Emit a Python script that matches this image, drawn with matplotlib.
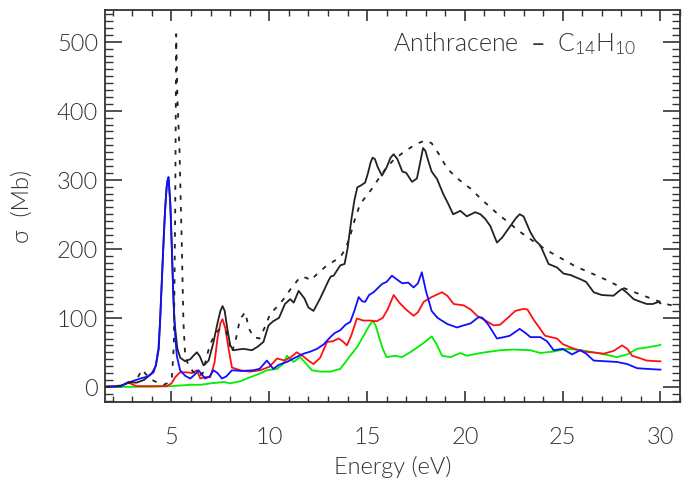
import matplotlib
matplotlib.use("Agg")
import matplotlib.pyplot as plt
from matplotlib.ticker import MultipleLocator

plt.rcParams['font.family'] = ['Lato', 'DejaVu Sans']
plt.rcParams['font.weight'] = 300
plt.rcParams['axes.labelweight'] = 300
plt.rcParams['mathtext.default'] = 'regular'

# total cross section, calculation (solid black)
tot_x = [1.6, 2.4, 2.8, 3.2, 3.6, 4.0, 4.2, 4.35, 4.5, 4.65, 4.75, 4.85, 4.95, 5.05, 5.15, 5.3,
         5.45, 5.7, 5.96, 6.15, 6.3, 6.45, 6.64, 6.9, 7.15, 7.35, 7.5, 7.61, 7.72, 7.85, 8.0,
         8.17, 8.4, 8.68, 8.9, 9.11, 9.4, 9.7, 9.96, 10.2, 10.5, 10.8, 11.07, 11.25, 11.5,
         11.8, 12.0, 12.26, 12.6, 13.03, 13.15, 13.29, 13.63, 13.85, 14.0, 14.2, 14.35, 14.5,
         14.7, 14.9, 15.05, 15.18, 15.28, 15.4, 15.55, 15.76, 16.0, 16.2, 16.36, 16.55, 16.8,
         17.0, 17.3, 17.55, 17.75, 17.86, 17.98, 18.1, 18.3, 18.58, 18.9, 19.1, 19.4, 19.77,
         20.1, 20.53, 20.8, 21.05, 21.3, 21.64, 21.9, 22.3, 22.6, 22.8, 23.0, 23.35, 23.6,
         23.86, 24.28, 24.71, 25.05, 25.4, 25.65, 25.9, 26.2, 26.59, 27.0, 27.6, 27.85, 28.04,
         28.3, 28.63, 29.0, 29.3, 29.6, 29.9, 30.0]
tot_y = [0, 1, 7, 6, 10, 20, 30, 55, 150, 245, 290, 302, 260, 170, 95, 55,
         42, 37, 40, 46, 50, 44, 31, 38, 65, 92, 110, 117, 110, 85, 60,
         53, 54, 55, 54, 53, 58, 65, 89, 95, 100, 120, 127, 122, 139,
         128, 115, 110, 128, 154, 160, 161, 176, 178, 200, 243, 270, 289,
         292, 296, 310, 325, 332, 330, 318, 306, 318, 332, 337, 330, 312,
         310, 297, 302, 330, 346, 342, 330, 312, 301, 279, 268, 250, 255,
         247, 253, 250, 243, 233, 209, 216, 232, 244, 250, 247, 224, 212,
         205, 178, 173, 164, 162, 159, 156, 152, 137, 133, 132, 138, 142,
         136, 127, 123, 120, 120, 123, 121]

# reference curve (dotted black)
exp_x = [1.6, 2.5, 3.0, 3.3, 3.5, 3.7, 4.0, 4.3, 4.6, 4.85, 5.02, 5.12, 5.19, 5.24, 5.3, 5.41,
         5.53, 5.61, 5.7, 5.87, 6.1, 6.4, 6.6, 6.81, 6.98, 7.2, 7.5, 7.8, 8.09, 8.3, 8.5, 8.77,
         8.95, 9.19, 9.5, 9.8, 10.05, 10.4, 10.73, 11.1, 11.58, 11.9, 12.1, 12.5, 12.95, 13.3,
         13.63, 13.9, 14.14, 14.4, 14.65, 15.0, 15.25, 15.6, 16.0, 16.4, 16.87, 17.3, 17.7,
         17.98, 18.3, 18.7, 19.1, 19.7, 20.3, 20.8, 21.3, 21.7, 22.2, 22.75, 23.35, 23.8, 24.37,
         25.0, 25.56, 26.1, 26.76, 27.3, 27.78, 28.4, 29.14, 29.8, 30.42, 31.0]
exp_y = [0, 2, 8, 15, 25, 18, 10, 6, 3, 6, 14, 60, 258, 511, 420, 342,
         200, 94, 45, 31, 22, 15, 20, 45, 62, 75, 85, 80, 50, 70, 98, 108,
         85, 72, 70, 88, 106, 116, 127, 142, 159, 158, 154, 165, 176, 182,
         188, 200, 219, 245, 265, 278, 287, 302, 318, 330, 340, 348, 354,
         357, 353, 336, 316, 300, 287, 273, 260, 250, 239, 226, 214, 205, 195,
         185, 176, 169, 161, 154, 147, 140, 132, 125, 119, 116]

# partial contributions
blue_x = [1.6, 2.38, 2.89, 3.4, 3.8, 4.08, 4.2, 4.33, 4.42, 4.5, 4.6, 4.7, 4.78, 4.85, 4.93,
          5.02, 5.1, 5.19, 5.27, 5.44, 5.7, 5.96, 6.2, 6.38, 6.55, 6.72, 6.95, 7.15, 7.35,
          7.58, 7.8, 8.09, 8.6, 9.19, 9.5, 9.88, 10.2, 10.5, 10.9, 11.3, 11.75, 12.1, 12.44,
          12.8, 13.12, 13.35, 13.63, 13.9, 14.14, 14.35, 14.57, 14.75, 14.9, 15.1, 15.33,
          15.55, 15.76, 16.0, 16.27, 16.6, 16.8, 17.1, 17.38, 17.6, 17.8, 18.0, 18.3, 18.6,
          19.1, 19.6, 19.94, 20.3, 20.7, 20.9, 21.2, 21.64, 22.0, 22.3, 22.8, 23.1, 23.35,
          23.86, 24.2, 24.54, 25.0, 25.48, 25.9, 26.2, 26.59, 27.2, 27.78, 28.3, 28.8, 29.3,
          29.9, 30.0]
blue_y = [0, 1, 7, 12, 15, 21, 32, 55, 95, 150, 215, 270, 298, 304, 270,
          200, 125, 74, 45, 24, 16, 12, 18, 24, 18, 12, 15, 24, 20,
          12, 15, 24, 23, 24, 26, 38, 26, 32, 36, 42, 48, 51, 55,
          62, 72, 78, 82, 90, 94, 110, 130, 124, 123, 133, 137,
          143, 149, 152, 161, 154, 150, 151, 144, 150, 166, 140, 110, 100,
          91, 86, 89, 92, 101, 100, 90, 70, 72, 74, 84, 78, 72,
          72, 66, 53, 55, 47, 53, 48, 38, 37, 36, 33, 27, 26,
          25, 25]

red_x = [1.6, 2.4, 2.8, 3.2, 4.0, 4.76, 5.0, 5.19, 5.44, 5.79, 6.05, 6.3, 6.47, 6.7, 6.98, 7.2,
         7.35, 7.5, 7.61, 7.75, 7.92, 8.09, 8.51, 9.0, 9.54, 10.0, 10.4, 10.8, 11.1, 11.4,
         11.7, 12.0, 12.26, 12.6, 12.95, 13.25, 13.54, 13.75, 13.97, 14.2, 14.48, 14.8, 15.16,
         15.5, 15.8, 16.05, 16.36, 16.65, 16.95, 17.38, 17.6, 17.89, 18.3, 18.83, 19.1, 19.43,
         19.94, 20.3, 20.62, 21.0, 21.47, 21.8, 22.2, 22.58, 23.0, 23.2, 23.5, 24.1, 24.71,
         25.0, 25.4, 26.07, 26.5, 27.1, 27.6, 28.04, 28.3, 28.55, 29.0, 29.3, 29.9, 30.0]
red_y = [0, 1, 6, 1, 1, 1, 5, 14, 21, 21, 20, 24, 12, 14, 14, 35,
         70, 92, 98, 85, 55, 28, 24, 22, 24, 29, 41, 38, 43, 50,
         45, 38, 33, 42, 65, 66, 70, 66, 60, 75, 99, 96, 96,
         95, 100, 112, 133, 122, 113, 103, 108, 123, 130, 137, 132, 120,
         118, 112, 103, 97, 89, 90, 100, 110, 113, 112, 98, 74, 70,
         62, 57, 51, 50, 48, 52, 60, 55, 45, 41, 38, 37, 37]

green_x = [1.6, 3.0, 4.0, 5.0, 6.0, 6.5, 7.0, 7.7, 8.0, 8.5, 9.03, 9.5, 9.88, 10.4, 10.7, 10.9,
           11.24, 11.58, 11.9, 12.18, 12.6, 13.12, 13.63, 14.14, 14.5, 14.82, 15.1, 15.3, 15.45,
           15.59, 15.8, 16.0, 16.44, 16.78, 17.2, 17.72, 18.0, 18.3, 18.55, 18.83, 19.26, 19.77,
           20.1, 20.8, 21.8, 22.5, 23.35, 23.86, 24.5, 25.2, 25.99, 26.76, 27.3, 27.78, 28.3,
           28.8, 29.3, 29.9, 30.0]
green_y = [0, 0, 0, 1, 3, 3, 5, 7, 5, 8, 14, 19, 24, 26, 33, 45,
           36, 43, 33, 24, 22, 22, 26, 45, 58, 74, 88, 96, 88,
           74, 55, 43, 45, 43, 50, 60, 66, 73, 62, 45, 43, 49,
           45, 49, 53, 54, 53, 49, 51, 55, 53, 49, 46, 43, 47,
           55, 57, 60, 61]

fig = plt.figure(figsize=(6.85, 4.89), dpi=100)
ax = fig.add_axes([105 / 685, 1 - 403 / 489, 575 / 685, 392 / 489])

lw = 1.3
ax.plot(green_x, green_y, color='#00ee00', lw=lw)
ax.plot(red_x, red_y, color='#ff1010', lw=lw)
ax.plot(tot_x, tot_y, color='#222222', lw=lw)
ax.plot(blue_x, blue_y, color='#1010ff', lw=lw)
ax.plot(exp_x, exp_y, color='#222222', lw=lw, linestyle=(0, (2.5, 4)))

ax.set_xlim(1.6, 31.0)
ax.set_ylim(-22, 546)

frame_col = '#333333'
for s in ax.spines.values():
    s.set_color(frame_col)
    s.set_linewidth(1.3)

txt_col = '#333333'
ax.xaxis.set_major_locator(MultipleLocator(5))
ax.xaxis.set_minor_locator(MultipleLocator(1))
ax.yaxis.set_major_locator(MultipleLocator(100))
ax.yaxis.set_minor_locator(MultipleLocator(10))
ax.tick_params(which='both', direction='in', top=True, right=True, color=frame_col,
               labelcolor=txt_col, labelsize=17)
ax.tick_params(axis='x', which='major', length=8, width=1.2, pad=17)
ax.tick_params(axis='x', which='minor', length=4, width=1.0)
ax.tick_params(axis='y', which='major', length=12, width=1.2, pad=5)
ax.tick_params(axis='y', which='minor', length=6, width=1.0)

ax.set_xlabel('Energy (eV)', fontsize=17, color=txt_col, fontweight=300)
ax.set_ylabel('σ  (Mb)', fontsize=17, color=txt_col, fontweight=300)
ax.xaxis.set_label_coords(0.5, -0.135)
ax.yaxis.set_label_coords(-0.125, 0.5)

ax.text(0.925, 0.916, r'Anthracene  –  C$_{14}$H$_{10}$', transform=ax.transAxes,
        ha='right', va='center', fontsize=18, color=txt_col)

fig.savefig('out.png', dpi=100)
